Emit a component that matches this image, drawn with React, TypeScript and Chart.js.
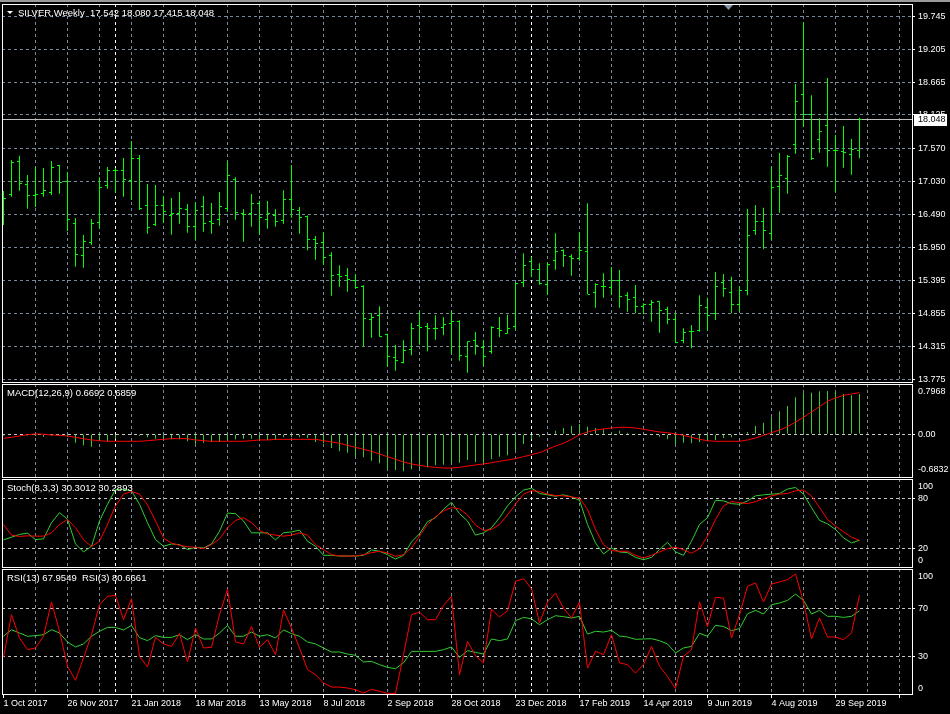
import React, { useEffect, useRef } from 'react';
import { Chart, registerables } from 'chart.js';

Chart.register(...registerables);

// ---------------- data ----------------
const SYMBOL = 'SILVER,Weekly';

const DATE_LABELS = [
  '1 Oct 2017', '26 Nov 2017', '21 Jan 2018', '18 Mar 2018', '13 May 2018', '8 Jul 2018', '2 Sep 2018',
  '28 Oct 2018', '23 Dec 2018', '17 Feb 2019', '14 Apr 2019', '9 Jun 2019', '4 Aug 2019', '29 Sep 2019',
];

const OPEN = [
  16.52, 16.82, 17.363, 16.985, 16.804, 16.837, 16.853, 17.297, 17.034, 16.343,
  15.817, 16.031, 16.36, 16.968, 17.215, 17.215, 17.051, 17.412, 16.639, 16.327,
  16.639, 16.475, 16.508, 16.574, 16.294, 16.623, 16.376, 16.409, 16.59, 17.067,
  16.508, 16.508, 16.672, 16.409, 16.475, 16.393, 16.738, 16.557, 16.459, 16.08,
  16.031, 15.817, 15.505, 15.488, 15.406, 15.307, 14.764, 14.83, 14.518, 14.139,
  14.057, 14.271, 14.666, 14.65, 14.616, 14.633, 14.699, 14.732, 14.149, 14.419,
  14.304, 14.238, 14.616, 14.534, 14.65, 15.373, 15.718, 15.587, 15.34, 15.735,
  15.899, 15.801, 15.768, 15.883, 15.209, 15.307, 15.291, 15.411, 15.148, 15.126,
  14.983, 15.0, 15.054, 14.929, 14.769, 14.413, 14.567, 14.577, 14.962, 14.863,
  15.366, 15.213, 15.016, 15.235, 16.222, 16.381, 16.179, 16.957, 17.084, 17.643,
  18.454, 18.136, 17.725, 17.955, 17.537, 17.521, 17.483, 17.542,
];

const HIGH = [
  16.875, 17.384, 17.455, 17.138, 17.274, 17.253, 17.368, 17.302, 17.187, 16.431,
  16.151, 16.414, 17.1, 17.269, 17.253, 17.417, 17.697, 17.467, 16.99, 16.973,
  16.792, 16.76, 16.858, 16.661, 16.694, 16.792, 16.677, 16.858, 17.363, 17.1,
  16.574, 16.825, 16.715, 16.71, 16.574, 16.886, 17.302, 16.611, 16.47, 16.135,
  16.2, 15.866, 15.653, 15.608, 15.505, 15.324, 14.863, 14.978, 14.528, 14.342,
  14.419, 14.704, 14.896, 14.704, 14.83, 14.797, 14.906, 14.748, 14.403, 14.556,
  14.419, 14.649, 14.802, 14.84, 15.366, 15.85, 15.794, 15.685, 15.702, 16.179,
  15.916, 15.834, 16.195, 16.672, 15.357, 15.521, 15.625, 15.575, 15.209, 15.329,
  15.028, 15.082, 15.06, 14.972, 14.863, 14.616, 14.671, 15.159, 15.12, 15.542,
  15.51, 15.465, 15.312, 16.579, 16.644, 16.6, 17.274, 17.5, 17.467, 18.634,
  19.654, 18.449, 18.075, 18.733, 17.796, 17.944, 17.73, 18.08,
];

const LOW = [
  16.315, 16.781, 16.88, 16.584, 16.611, 16.781, 16.809, 16.83, 16.217, 15.63,
  15.613, 15.987, 16.255, 16.912, 16.847, 16.781, 16.727, 16.562, 16.172, 16.299,
  16.353, 16.156, 16.337, 16.189, 16.074, 16.205, 16.172, 16.304, 16.534, 16.403,
  16.041, 16.287, 16.156, 16.255, 16.287, 16.337, 16.435, 16.172, 15.899, 15.745,
  15.658, 15.153, 15.301, 15.218, 15.274, 14.32, 14.462, 14.478, 13.985, 13.919,
  14.041, 14.172, 14.347, 14.238, 14.429, 14.501, 14.189, 14.084, 13.886, 14.182,
  13.996, 14.199, 14.469, 14.528, 14.584, 15.296, 15.46, 15.334, 15.169, 15.58,
  15.625, 15.482, 15.728, 15.176, 14.955, 15.12, 15.169, 14.955, 14.889, 14.863,
  14.847, 14.725, 14.544, 14.682, 14.38, 14.37, 14.288, 14.561, 14.577, 14.753,
  15.136, 14.863, 14.889, 15.159, 16.151, 15.916, 16.069, 16.518, 16.83, 17.488,
  17.932, 17.384, 17.505, 17.274, 16.853, 17.258, 17.143, 17.415,
];

const CLOSE = [
  16.755, 17.347, 17.001, 16.804, 16.82, 16.886, 17.264, 17.018, 16.409, 15.834,
  16.052, 16.343, 16.94, 17.215, 17.22, 17.067, 17.412, 16.59, 16.278, 16.639,
  16.541, 16.508, 16.59, 16.294, 16.557, 16.343, 16.343, 16.623, 17.133, 16.524,
  16.496, 16.672, 16.442, 16.508, 16.376, 16.738, 16.574, 16.442, 16.08, 16.014,
  15.784, 15.488, 15.472, 15.422, 15.291, 14.781, 14.797, 14.485, 14.156, 14.09,
  14.255, 14.616, 14.633, 14.616, 14.62, 14.682, 14.732, 14.166, 14.403, 14.337,
  14.156, 14.633, 14.584, 14.616, 15.357, 15.653, 15.587, 15.357, 15.669, 15.883,
  15.817, 15.768, 15.899, 15.18, 15.34, 15.31, 15.406, 15.136, 15.098, 14.972,
  15.0, 15.038, 14.917, 14.764, 14.386, 14.551, 14.572, 14.995, 14.835, 15.312,
  15.274, 15.011, 15.235, 16.135, 16.37, 16.222, 16.936, 17.138, 17.45, 18.355,
  18.141, 17.406, 17.861, 17.537, 17.54, 17.505, 17.56, 18.048,
];

const MACD_MAIN = [
  -0.02, -0.01, 0.0, -0.02, -0.03, -0.04, -0.02, -0.02, -0.04, -0.134,
  -0.176, -0.197, -0.102, -0.112, -0.07, -0.017, 0.004, -0.028, -0.049, -0.07,
  -0.07, -0.081, -0.081, -0.112, -0.155, -0.134, -0.123, -0.123, -0.091, -0.081,
  -0.07, -0.07, -0.102, -0.091, -0.091, -0.049, -0.049, -0.049, -0.06, -0.123,
  -0.144, -0.218, -0.271, -0.292, -0.345, -0.366, -0.419, -0.461, -0.546, -0.567,
  -0.588, -0.557, -0.535, -0.525, -0.493, -0.483, -0.461, -0.451, -0.409, -0.44,
  -0.451, -0.398, -0.356, -0.335, -0.25, -0.155, -0.081, -0.039, -0.007, 0.057,
  0.099, 0.131, 0.162, 0.12, 0.099, 0.078, 0.035, 0.057, 0.025, 0.004,
  -0.007, -0.017, -0.039, -0.081, -0.155, -0.134, -0.144, -0.123, -0.112, -0.091,
  -0.06, -0.049, -0.007, 0.035, 0.131, 0.183, 0.268, 0.363, 0.448, 0.585,
  0.649, 0.659, 0.68, 0.686, 0.67, 0.638, 0.617, 0.638,
];

const MACD_SIGNAL = [
  -0.065, -0.049, -0.028, -0.007, 0.004, 0.0, -0.012, -0.017, -0.028, -0.049,
  -0.07, -0.091, -0.102, -0.112, -0.112, -0.112, -0.112, -0.112, -0.102, -0.091,
  -0.081, -0.07, -0.07, -0.07, -0.091, -0.102, -0.112, -0.112, -0.112, -0.112,
  -0.112, -0.102, -0.091, -0.091, -0.081, -0.081, -0.081, -0.081, -0.081, -0.081,
  -0.102, -0.123, -0.144, -0.176, -0.208, -0.239, -0.271, -0.313, -0.356, -0.398,
  -0.44, -0.472, -0.493, -0.514, -0.525, -0.535, -0.535, -0.525, -0.504, -0.488,
  -0.472, -0.451, -0.43, -0.409, -0.387, -0.356, -0.324, -0.292, -0.239, -0.187,
  -0.144, -0.081, -0.007, 0.035, 0.067, 0.083, 0.099, 0.109, 0.109, 0.099,
  0.078, 0.057, 0.035, 0.025, 0.004, -0.017, -0.049, -0.081, -0.102, -0.112,
  -0.112, -0.112, -0.112, -0.091, -0.06, -0.017, 0.025, 0.067, 0.12, 0.194,
  0.268, 0.353, 0.437, 0.522, 0.575, 0.617, 0.638, 0.659,
];

const STOCH_MAIN = [
  30.8, 34.0, 37.2, 38.8, 31.2, 32.0, 51.1, 63.0, 55.2, 26.0,
  16.5, 23.2, 53.1, 72.9, 90.5, 90.5, 88.9, 72.9, 51.1, 31.2,
  23.2, 26.0, 25.2, 19.3, 22.0, 21.2, 26.0, 41.1, 62.6, 61.8,
  53.1, 39.1, 39.1, 39.1, 30.8, 39.1, 40.3, 42.3, 29.2, 23.2,
  12.5, 12.5, 11.7, 11.7, 11.7, 12.5, 18.9, 17.3, 13.3, 8.1,
  12.5, 28.4, 37.9, 52.3, 57.0, 67.0, 75.3, 61.8, 53.1, 36.4,
  39.1, 45.1, 57.0, 71.0, 81.7, 89.7, 92.0, 85.7, 84.1, 82.5,
  84.1, 81.7, 77.7, 49.1, 27.2, 14.1, 21.2, 16.5, 15.7, 10.1,
  7.3, 10.1, 19.3, 28.0, 16.5, 12.5, 29.2, 49.1, 57.0, 77.7,
  76.9, 73.7, 72.9, 76.9, 82.9, 84.1, 84.9, 85.7, 90.9, 92.8,
  84.9, 69.0, 53.9, 49.8, 43.1, 33.1, 27.2, 30.3,
];

const STOCH_SIGNAL = [
  49.0, 36.4, 34.8, 35.6, 35.2, 35.2, 39.1, 49.0, 55.0, 45.1,
  31.2, 22.8, 29.2, 49.0, 71.0, 84.9, 88.1, 84.9, 72.2, 53.1,
  33.1, 26.8, 24.4, 22.8, 22.0, 20.4, 25.2, 31.9, 45.1, 53.8,
  57.0, 51.1, 41.9, 37.9, 36.4, 35.2, 36.4, 39.1, 36.4, 25.2,
  19.3, 13.3, 11.7, 11.7, 11.7, 13.3, 15.7, 17.3, 15.3, 11.3,
  13.3, 21.2, 35.2, 49.0, 58.2, 65.0, 69.0, 67.4, 60.2, 48.2,
  41.9, 43.1, 49.1, 60.2, 73.0, 84.9, 88.9, 88.1, 84.9, 83.3,
  82.9, 81.7, 80.1, 67.0, 43.1, 25.2, 18.1, 17.3, 17.3, 12.5,
  9.3, 12.5, 16.5, 20.4, 22.0, 19.3, 14.9, 20.4, 35.2, 55.0,
  71.0, 76.1, 74.9, 73.7, 76.1, 79.3, 82.9, 84.9, 85.7, 88.9,
  89.7, 82.9, 69.0, 55.0, 47.1, 40.3, 33.9, 30.3,
];

const RSI13 = [
  47.0, 52.4, 49.7, 47.0, 47.5, 48.3, 52.4, 49.7, 42.3, 38.2,
  40.7, 47.0, 51.1, 54.3, 54.3, 52.2, 55.9, 45.9, 43.4, 47.5,
  46.1, 46.1, 48.3, 44.2, 48.3, 44.8, 44.8, 49.7, 55.9, 47.0,
  47.0, 50.5, 47.0, 48.3, 45.6, 52.2, 49.2, 47.0, 42.3, 40.7,
  37.4, 34.1, 34.1, 32.4, 31.3, 25.9, 26.4, 23.7, 21.5, 20.4,
  25.1, 34.6, 34.6, 34.6, 34.6, 36.0, 38.2, 29.7, 35.2, 33.8,
  32.4, 44.8, 43.4, 44.8, 59.8, 62.5, 61.4, 56.5, 60.6, 63.9,
  63.1, 62.0, 63.4, 48.8, 51.1, 50.5, 51.9, 47.2, 46.4, 44.5,
  44.8, 45.0, 43.4, 40.7, 33.3, 37.4, 38.7, 49.5, 47.0, 55.9,
  55.1, 51.6, 53.3, 65.4, 68.3, 65.3, 72.9, 74.3, 76.5, 81.7,
  76.5, 65.3, 68.3, 63.4, 63.4, 62.5, 63.4, 67.95,
];

const RSI3 = [
  29.7, 64.7, 45.6, 36.0, 37.4, 47.0, 75.2, 51.1, 22.3, 10.8,
  29.2, 48.3, 72.9, 79.8, 80.6, 60.6, 77.9, 30.5, 21.8, 46.1,
  40.7, 38.7, 49.2, 25.9, 53.8, 37.4, 37.9, 64.7, 85.8, 42.3,
  40.7, 54.9, 37.9, 44.2, 31.9, 68.6, 53.8, 37.4, 19.6, 15.5,
  8.6, 5.3, 5.3, 4.5, 3.1, 0.4, 3.4, 1.8, 0.1, 0.1,
  31.9, 64.7, 66.9, 60.6, 60.6, 72.4, 79.8, 15.5, 42.8, 31.0,
  25.1, 69.3, 62.8, 68.0, 92.1, 94.3, 86.1, 57.9, 75.2, 82.5,
  70.2, 62.0, 75.2, 20.9, 34.6, 31.9, 48.3, 25.1, 23.7, 16.8,
  23.7, 38.7, 22.3, 14.1, 4.0, 30.5, 36.0, 75.2, 55.1, 79.0,
  78.4, 45.6, 64.7, 88.0, 90.8, 75.2, 89.9, 91.6, 93.5, 98.2,
  75.2, 44.8, 62.0, 46.4, 46.4, 44.2, 49.7, 80.67,
];

const PRICE_TICKS = [19.745, 19.205, 18.665, 18.125, 17.57, 17.03, 16.49, 15.95, 15.395, 14.855, 14.315, 13.775];
const PRICE_TICK_LABELS = ['19.745', '19.205', '18.665', '18.125', '17.570', '17.030', '16.490', '15.950', '15.395', '14.855', '14.315', '13.775'];

const MACD_TEXT = 'MACD(12,26,9) 0.6692 0.6859';
const STOCH_TEXT = 'Stoch(8,3,3) 30.3012 30.2893';
const RSI_TEXT = 'RSI(13) 67.9549  RSI(3) 80.6661';

const MACD_AXIS_LABELS = ['0.7968', '0.00', '-0.6832'];
const STOCH_AXIS_LABELS = ['100', '80', '20', '0'];
const STOCH_LEVELS = [80, 20];
const RSI_AXIS_LABELS = ['100', '70', '30', '0'];
const RSI_LEVELS = [70, 30];
const SEPARATOR_BARS = [14, 66];

// ---------------- layout / style ----------------
const W = 950;
const PLOT_LEFT = 2;
const AXIS_W = 37;
const BAR_PX = 8;
const X_MIN = -0.1875;
const X_MAX = X_MIN + (W - PLOT_LEFT - AXIS_W) / BAR_PX;

// label positions inside indicator panes (value units at which MT4 draws the text)
const MACD_AXIS_POS = [0.67, 0, -0.567];
const STOCH_AXIS_POS = [94.2, 80, 20, 6.6];
const RSI_AXIS_POS = [95.7, 70, 30, 4.5];

const GRID = '#778899';
const LEVEL = '#c8c8c8';
const BAR_COLOR = '#00ff00';
const IND_GREEN = '#32cd32';
const RED = '#ff0000';
const FONT = { family: '"Liberation Sans", Arial, sans-serif', size: 9 };
const FONT_CSS = '9px "Liberation Sans", Arial, sans-serif';
const HEADER_FONT_CSS = '9.5px "Liberation Sans", Arial, sans-serif';
const DASH = [3, 3];

function xScale(withLabels: boolean) {
  const values: number[] = [];
  for (let v = withLabels ? 0 : 4; v <= X_MAX; v += 4) values.push(v);
  return {
    type: 'linear',
    position: 'bottom',
    min: X_MIN,
    max: X_MAX,
    offset: false,
    afterBuildTicks: (s: any) => {
      s.ticks = values.map((v) => ({ value: v }));
    },
    afterFit: (s: any) => {
      s.height = withLabels ? 19 : 0;
      s.paddingLeft = 0;
      s.paddingRight = 0;
      s.paddingTop = 0;
      s.paddingBottom = 0;
    },
    grid: {
      offset: false,
      lineWidth: 1,
      color: (c: any) => (c.tick && c.tick.value > 0 ? GRID : 'transparent'),
      drawTicks: withLabels,
      tickLength: 3,
      tickColor: (c: any) => (c.tick && c.tick.value % 8 === 0 ? '#ffffff' : 'transparent'),
    },
    border: { display: false, dash: DASH },
    ticks: {
      display: withLabels,
      autoSkip: false,
      maxRotation: 0,
      minRotation: 0,
      align: 'start',
      padding: 0,
      color: '#ffffff',
      font: FONT,
      callback: (v: number) => (v % 8 === 0 ? DATE_LABELS[v / 8] || '' : ''),
    },
  };
}

function yScale(min: number, max: number, pos: number[], labels: string[], gridOn: (v: number) => string) {
  return {
    type: 'linear',
    position: 'right',
    min,
    max,
    beginAtZero: false,
    afterBuildTicks: (s: any) => {
      s.ticks = pos.map((v) => ({ value: v }));
    },
    afterFit: (s: any) => {
      s.width = AXIS_W;
      s.paddingTop = 0;
      s.paddingBottom = 0;
      s.paddingLeft = 0;
      s.paddingRight = 0;
    },
    grid: {
      lineWidth: 1,
      color: (c: any) => (c.tick ? gridOn(c.tick.value) : 'transparent'),
      drawTicks: true,
      tickLength: 2,
      tickColor: (c: any) => (c.tick && gridOn(c.tick.value) !== 'transparent' ? '#ffffff' : 'transparent'),
    },
    border: { display: false, dash: DASH },
    ticks: {
      autoSkip: false,
      padding: 3,
      color: '#ffffff',
      font: FONT,
      callback: (_v: number, i: number) => labels[i],
    },
  };
}

function decor(header: (ctx: CanvasRenderingContext2D) => void) {
  return {
    id: 'paneDecor',
    beforeDatasetsDraw(chart: any) {
      const { ctx, chartArea: a, scales } = chart;
      ctx.save();
      ctx.strokeStyle = '#ffffff';
      ctx.lineWidth = 1;
      ctx.setLineDash(DASH);
      for (const b of SEPARATOR_BARS) {
        const x = Math.round(scales.x.getPixelForValue(b) - 0.5) + 0.5;
        ctx.beginPath();
        ctx.moveTo(x, a.top);
        ctx.lineTo(x, a.bottom);
        ctx.stroke();
      }
      ctx.restore();
    },
    afterDraw(chart: any) {
      const { ctx, chartArea: a } = chart;
      ctx.save();
      ctx.strokeStyle = '#ffffff';
      ctx.lineWidth = 1;
      ctx.setLineDash([]);
      ctx.strokeRect(a.left + 0.5, a.top + 0.5, a.right - a.left - 1, a.bottom - a.top - 1);
      ctx.font = HEADER_FONT_CSS;
      ctx.fillStyle = '#ffffff';
      ctx.textBaseline = 'middle';
      ctx.textAlign = 'left';
      header(ctx);
      ctx.restore();
    },
  };
}

const ohlcPlugin = {
  id: 'ohlcTicks',
  beforeDatasetsDraw(chart: any) {
    const { ctx, chartArea: a, scales } = chart;
    const last = CLOSE.length - 1;
    const y = Math.round(scales.y.getPixelForValue(CLOSE[last]) - 0.5) + 0.5;
    ctx.save();
    ctx.strokeStyle = '#c0c0c0';
    ctx.lineWidth = 1;
    ctx.beginPath();
    ctx.moveTo(a.left, y);
    ctx.lineTo(a.right, y);
    ctx.stroke();
    ctx.restore();
  },
  afterDatasetsDraw(chart: any) {
    const { ctx, chartArea: a, scales } = chart;
    ctx.save();
    ctx.beginPath();
    ctx.rect(a.left, a.top, a.right - a.left, a.bottom - a.top);
    ctx.clip();
    ctx.fillStyle = BAR_COLOR;
    for (let i = 0; i < OPEN.length; i++) {
      const cx = Math.round(scales.x.getPixelForValue(i) - 0.5);
      const yo = Math.round(scales.y.getPixelForValue(OPEN[i]) - 0.5);
      const yc = Math.round(scales.y.getPixelForValue(CLOSE[i]) - 0.5);
      ctx.fillRect(cx - 2, yo, 2, 1);
      ctx.fillRect(cx + 1, yc, 2, 1);
    }
    ctx.restore();
  },
  afterDraw(chart: any) {
    const { ctx, chartArea: a, scales } = chart;
    const last = CLOSE.length - 1;
    const yc = Math.round(scales.y.getPixelForValue(CLOSE[last]));
    ctx.save();
    ctx.fillStyle = '#ffffff';
    ctx.fillRect(a.right + 1, yc - 6, 33, 12);
    ctx.fillStyle = '#000000';
    ctx.font = FONT_CSS;
    ctx.textBaseline = 'middle';
    ctx.textAlign = 'left';
    ctx.fillText(CLOSE[last].toFixed(3), a.right + 5, yc);
    // chart shift marker
    ctx.fillStyle = '#8595a8';
    ctx.beginPath();
    ctx.moveTo(724, a.top + 1);
    ctx.lineTo(733, a.top + 1);
    ctx.lineTo(728.5, a.top + 6);
    ctx.closePath();
    ctx.fill();
    ctx.restore();
  },
};

const xy = (arr: number[]) => arr.map((v, i) => ({ x: i, y: v }));

function baseOptions(padTop: number, padBottom: number) {
  return {
    responsive: false,
    animation: false,
    devicePixelRatio: 1,
    events: [],
    layout: { padding: { left: PLOT_LEFT, right: 0, top: padTop, bottom: padBottom }, autoPadding: false },
    plugins: { legend: { display: false }, tooltip: { enabled: false }, title: { display: false } },
  };
}

export default function App() {
  const r1 = useRef<HTMLCanvasElement>(null);
  const r2 = useRef<HTMLCanvasElement>(null);
  const r3 = useRef<HTMLCanvasElement>(null);
  const r4 = useRef<HTMLCanvasElement>(null);

  useEffect(() => {
    const last = CLOSE.length - 1;
    const mainHeader = `${SYMBOL}  ${OPEN[last].toFixed(3)} ${HIGH[last].toFixed(3)} ${LOW[last].toFixed(3)} ${CLOSE[last].toFixed(3)}`;

    const c1 = new Chart(r1.current as HTMLCanvasElement, {
      type: 'bar',
      data: {
        datasets: [
          {
            type: 'bar',
            data: HIGH.map((h, i) => ({ x: i, y: [LOW[i], h] })),
            backgroundColor: BAR_COLOR,
            borderWidth: 0,
            inflateAmount: 0,
            barThickness: 1,
          },
        ],
      },
      options: {
        ...baseOptions(4, 1),
        scales: {
          x: xScale(false),
          y: yScale(13.717, 19.9506, PRICE_TICKS, PRICE_TICK_LABELS, () => GRID),
        },
      },
      plugins: [
        ohlcPlugin,
        decor((ctx) => {
          ctx.beginPath();
          ctx.moveTo(7, 11);
          ctx.lineTo(13, 11);
          ctx.lineTo(10, 14);
          ctx.closePath();
          ctx.fill();
          ctx.fillText(mainHeader, 18, 13);
        }),
      ],
    } as any);

    const c2 = new Chart(r2.current as HTMLCanvasElement, {
      type: 'bar',
      data: {
        datasets: [
          { type: 'line', data: xy(MACD_SIGNAL), borderColor: RED, borderWidth: 1, pointRadius: 0, tension: 0 },
          { type: 'bar', data: xy(MACD_MAIN), backgroundColor: IND_GREEN, borderWidth: 0, inflateAmount: 0, barThickness: 1 },
        ],
      },
      options: {
        ...baseOptions(0, 1),
        scales: {
          x: xScale(false),
          y: yScale(-0.694, 0.7964, MACD_AXIS_POS, MACD_AXIS_LABELS, (v) => (v === 0 ? LEVEL : 'transparent')),
        },
      },
      plugins: [decor((ctx) => ctx.fillText(MACD_TEXT, 7, 9.5))],
    } as any);

    const c3 = new Chart(r3.current as HTMLCanvasElement, {
      type: 'line',
      data: {
        datasets: [
          { data: xy(STOCH_SIGNAL), borderColor: RED, borderWidth: 1, pointRadius: 0, tension: 0 },
          { data: xy(STOCH_MAIN), borderColor: IND_GREEN, borderWidth: 1, pointRadius: 0, tension: 0 },
        ],
      },
      options: {
        ...baseOptions(0, 1),
        scales: {
          x: xScale(false),
          y: yScale(-2.49, 102.84, STOCH_AXIS_POS, STOCH_AXIS_LABELS, (v) => (STOCH_LEVELS.includes(v) ? LEVEL : 'transparent')),
        },
      },
      plugins: [decor((ctx) => ctx.fillText(STOCH_TEXT, 7, 9.5))],
    } as any);

    const c4 = new Chart(r4.current as HTMLCanvasElement, {
      type: 'line',
      data: {
        datasets: [
          { data: xy(RSI3), borderColor: RED, borderWidth: 1, pointRadius: 0, tension: 0 },
          { data: xy(RSI13), borderColor: IND_GREEN, borderWidth: 1, pointRadius: 0, tension: 0 },
        ],
      },
      options: {
        ...baseOptions(0, 0),
        scales: {
          x: xScale(true),
          y: yScale(-1.23, 102.26, RSI_AXIS_POS, RSI_AXIS_LABELS, (v) => (RSI_LEVELS.includes(v) ? LEVEL : 'transparent')),
        },
      },
      plugins: [decor((ctx) => ctx.fillText(RSI_TEXT, 7, 9.5))],
    } as any);

    return () => {
      c1.destroy();
      c2.destroy();
      c3.destroy();
      c4.destroy();
    };
  }, []);

  const abs = (top: number): React.CSSProperties => ({ position: 'absolute', left: 0, top, display: 'block' });

  return (
    <div style={{ position: 'fixed', left: 0, top: 0, width: W, height: 714, background: '#000', overflow: 'hidden' }}>
      <div style={{ position: 'absolute', left: 0, top: 0, width: W, height: 2, background: '#9a9a9a' }} />
      <canvas ref={r1} width={W} height={384} style={abs(0)} />
      <canvas ref={r2} width={W} height={95} style={abs(384)} />
      <canvas ref={r3} width={W} height={90} style={abs(479)} />
      <canvas ref={r4} width={W} height={145} style={abs(569)} />
    </div>
  );
}
